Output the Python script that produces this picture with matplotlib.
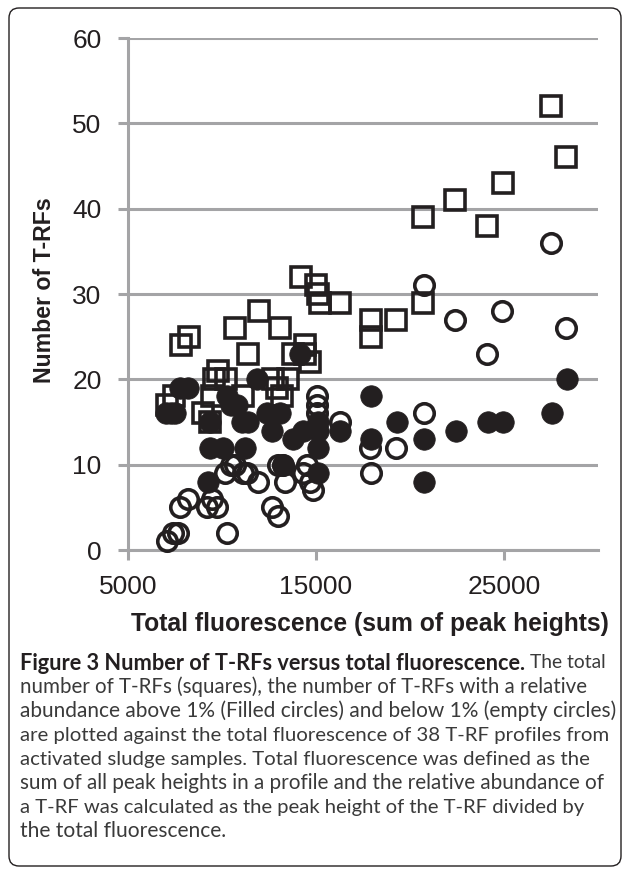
import matplotlib
matplotlib.use("Agg")
import matplotlib.pyplot as plt
from matplotlib.patches import FancyBboxPatch

# ---------------- data ----------------
sq_x = [16250, 17900, 17950, 19250, 20700, 20700, 22400, 24100, 24950, 27500, 28300,
        7100, 7450, 7800, 8250, 9000, 9350, 9450, 9550, 9800, 10200, 10700, 11400, 11950,
        12700, 12900, 13100, 13200, 13800, 14200, 14400, 14700, 14400, 15000, 15100, 15200,
        11100, 13500]
sq_y = [29, 25, 27, 27, 39, 29, 41, 38, 43, 52, 46,
        17, 18, 24, 25, 16, 15, 18, 20, 21, 20, 26, 23, 28,
        20, 19, 26, 18, 23, 32, 24, 22, 23, 31, 30, 29,
        18, 20]

fc_x = [16280, 17950, 17900, 19290, 20730, 20730, 22450, 24130, 24960, 27540, 28350,
        7300, 7500, 7770, 8200, 7000, 9360, 9360, 10070, 9270, 10780, 10250, 11050, 11400,
        11220, 11850, 12640, 13085, 13790, 14320, 14150, 15120, 15120, 15120, 15120, 13260,
        12400, 10500]
fc_y = [14, 18, 13, 15, 13, 8, 14, 15, 15, 16, 20,
        16, 16, 19, 19, 16, 15, 12, 12, 8, 17, 18, 15, 15,
        12, 20, 14, 16, 13, 14, 23, 12, 15, 14, 9, 10,
        16, 17]

oc_x = [16300, 17930, 17880, 19240, 20730, 20730, 22380, 24080, 24910, 27480, 28300,
        7100, 7410, 7680, 7770, 8210, 9190, 9450, 9720, 10250, 10160, 10700, 11130, 11310,
        11930, 12640, 12990, 13260, 13000, 13350, 14330, 14680, 14860, 14500, 15040, 15040,
        15040, 10500]
oc_y = [15, 9, 12, 12, 31, 16, 27, 23, 28, 36, 26,
        1, 2, 2, 5, 6, 5, 6, 5, 2, 9, 10, 9, 9,
        8, 5, 4, 10, 10, 8, 9, 8, 7, 10, 18, 17,
        16, 10]

x_ticks = [5000, 15000, 25000]
y_ticks = [0, 10, 20, 30, 40, 50, 60]
x_label = "Total fluorescence (sum of peak heights)"
y_label = "Number of T-RFs"
caption_bold = "Figure 3 Number of T-RFs versus total fluorescence."
caption_first_rest = "The total"
caption_lines = [
    "number of T-RFs (squares), the number of T-RFs with a relative",
    "abundance above 1% (Filled circles) and below 1% (empty circles)",
    "are plotted against the total fluorescence of 38 T-RF profiles from",
    "activated sludge samples. Total fluorescence was defined as the",
    "sum of all peak heights in a profile and the relative abundance of",
    "a T-RF was calculated as the peak height of the T-RF divided by",
    "the total fluorescence.",
]

# ---------------- figure ----------------
W, H = 627, 869
fig = plt.figure(figsize=(W / 100, H / 100), dpi=100)
GRID = "#a4a4a6"
INK = "#231f20"
CAP = "#3a3a3a"

ax = fig.add_axes([128 / W, 1 - 550 / H, (598 - 128) / W, (550 - 38) / H])
ax.set_xlim(5000, 30000)
ax.set_ylim(0, 60)
ax.set_xticks(x_ticks)
ax.set_yticks(y_ticks)
ax.set_xticklabels([str(v) for v in x_ticks])
ax.set_yticklabels([str(v) for v in y_ticks])
for s in ["top", "right"]:
    ax.spines[s].set_visible(False)
for s in ["left", "bottom"]:
    ax.spines[s].set_color(GRID)
    ax.spines[s].set_linewidth(2.2)
ax.yaxis.grid(True, color=GRID, linewidth=2.2)
ax.set_axisbelow(True)
ax.tick_params(axis="both", direction="out", length=7, width=2.2, color=GRID,
               labelsize=19, labelcolor=INK)
ax.tick_params(axis="y", pad=12)
ax.tick_params(axis="x", pad=11)
for lab in ax.get_xticklabels() + ax.get_yticklabels():
    lab.set_family("Liberation Sans")

ms = 14
ax.plot(sq_x, sq_y, linestyle="none", marker="s", markersize=ms, markerfacecolor="none",
        markeredgecolor=INK, markeredgewidth=2.6, clip_on=False, zorder=3)
ax.plot(fc_x, fc_y, linestyle="none", marker="o", markersize=ms + 1.5, markerfacecolor=INK,
        markeredgecolor=INK, markeredgewidth=0.5, clip_on=False, zorder=4)
ax.plot(oc_x, oc_y, linestyle="none", marker="o", markersize=ms, markerfacecolor="none",
        markeredgecolor=INK, markeredgewidth=2.6, clip_on=False, zorder=5)

fig.canvas.draw()
r = fig.canvas.get_renderer()


def fit_text(x, y, s, target, vertical=False, **kw):
    t = fig.text(x, y, s, fontsize=12, **kw)
    bb = t.get_window_extent(r)
    size = bb.height if vertical else bb.width
    t.set_fontsize(12 * target / size)
    return t


fit_text(370 / W, 1 - 624 / H, x_label, 474, family="Liberation Sans", weight="bold",
         color=INK, ha="center", va="center")
fit_text(45 / W, 1 - 290 / H, y_label, 185, vertical=True, family="Liberation Sans",
         weight="bold", color=INK, ha="center", va="center", rotation=90)

# caption: each line fitted to the width it takes in the reference
cap_font = "Lato"
x0 = 20
line_h = 24
y_first = 663
line_ends = [585, 615, 608, 588, 601, 582, 226]
tb = fit_text(x0 / W, 1 - y_first / H, caption_bold, 502, family=cap_font, weight="bold",
              color=INK, va="center", ha="left")
fit_text(530 / W, 1 - y_first / H, caption_first_rest, 76, family=cap_font, color=CAP,
         va="center", ha="left")
for i, line in enumerate(caption_lines):
    fit_text(x0 / W, 1 - (y_first + (i + 1) * line_h) / H, line, line_ends[i] - x0,
             family=cap_font, color=CAP, va="center", ha="left")

# rounded border
box = FancyBboxPatch((0.09, 0.03), 6.12, 8.58, boxstyle="round,pad=0,rounding_size=0.1",
                     transform=fig.dpi_scale_trans, facecolor="none", edgecolor=INK,
                     linewidth=1.0)
fig.patches.append(box)

fig.savefig("out.png", dpi=100)
